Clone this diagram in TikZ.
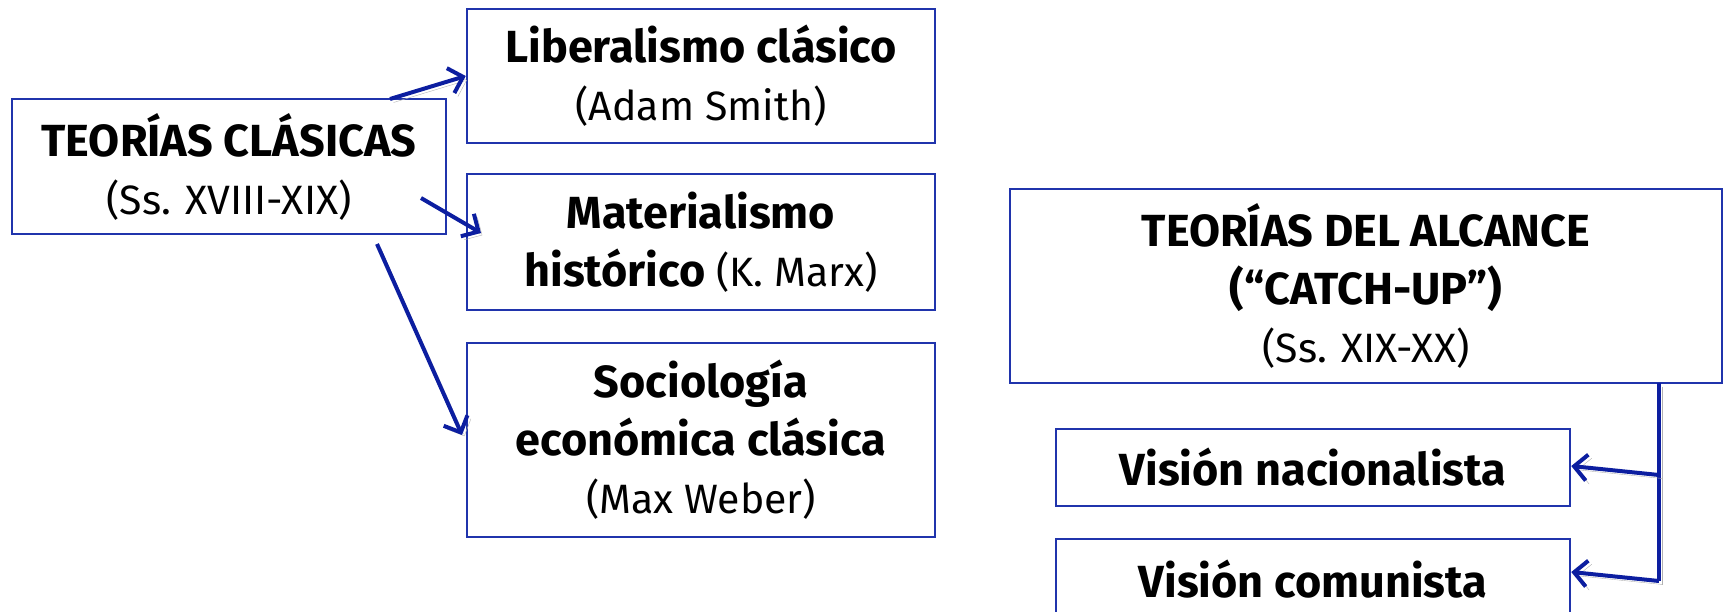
\documentclass[tikz,border=0pt]{standalone}
\usepackage{fontspec}
\setmainfont{Fira Sans}
\usepackage{tikz}
\usetikzlibrary{arrows.meta,calc}
\definecolor{boxblue}{RGB}{32,52,172}
\definecolor{arrblue}{RGB}{12,30,160}
\newcommand{\hd}[1]{{\fontsize{45}{58}\selectfont\bfseries #1}}
\tikzset{
  box/.style={draw=boxblue, line width=2.5pt, align=center, inner sep=0pt,
    font=\fontsize{41}{58}\selectfont},
  shad/.style={preaction={draw=black!30, transform canvas={shift={(3.5pt,-3.5pt)}}}},
  arr/.style={draw=arrblue, line width=4pt, -{Straight Barb[length=13pt,width=26pt]}, shad}
}

\begin{document}
\begin{tikzpicture}[x=1pt,y=-1pt]
\useasboundingbox (0,0) rectangle (1725,611);
\clip (0,0) rectangle (1725,611);
% izquierda
\node[box, minimum width=434, minimum height=135] (tclas) at (229,166.5)
  {\hd{TEORÍAS CLÁSICAS}\\(Ss. XVIII-XIX)};
\node[box, minimum width=468, minimum height=134] (lib) at (701,76)
  {\hd{Liberalismo clásico}\\(Adam Smith)};
\node[box, minimum width=468, minimum height=136] (mat) at (701,242)
  {\hd{Materialismo}\\\hd{histórico} (K. Marx)};
\node[box, minimum width=468, minimum height=194] (soc) at (701,440)
  {\hd{Sociología}\\\hd{económica clásica}\\(Max Weber)};
% derecha
\node[box, minimum width=712, minimum height=194] (alc) at (1366,286)
  {\hd{TEORÍAS DEL ALCANCE}\\\hd{(“CATCH-UP”)}\\(Ss. XIX-XX)};
\node[box, minimum width=514, minimum height=77] (nac) at (1313,467.5)
  {\hd{Visión nacionalista}};
\node[box, minimum width=514, minimum height=80] (com) at (1313,579)
  {\hd{Visión comunista}};

\coordinate (c1) at (390,99);
\coordinate (c2) at (421,198);
\coordinate (c3) at (481,233);
\coordinate (c4) at (377,244);
\coordinate (c5) at (462,435);
\coordinate (r0) at (1659,383);
\coordinate (r1) at (1659,475);
\coordinate (r2) at (1659,581);

\draw[arr] (c1) -- (lib.west);
\draw[arr] (c2) -- (c3);
\draw[arr] (c4) -- (c5);
\draw[draw=arrblue, line width=4pt, shad] (r0) -- (r2);
\draw[arr] (r1) -- ($(nac.east)+(0,-1.5)$);
\draw[arr] (r2) -- (com.east |- 0,572);
\end{tikzpicture}
\end{document}
